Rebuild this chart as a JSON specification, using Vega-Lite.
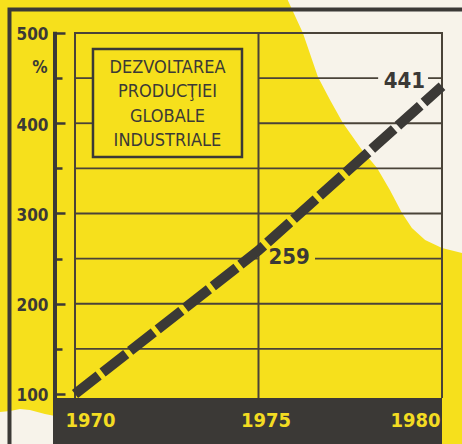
{
  "$schema": "https://vega.github.io/schema/vega-lite/v6.json",
  "width": 462,
  "height": 444,
  "autosize": {"type": "none"},
  "padding": 0,
  "background": "#f6e01c",
  "config": {
    "view": {"stroke": null},
    "axis": {"labels": false, "ticks": false, "domain": false, "grid": false, "titleOpacity": 0}
  },
  "datasets": {
    "series": [
      {"year": 1970, "value": 100},
      {"year": 1975, "value": 259},
      {"year": 1980, "value": 441}
    ],
    "whiteTop": [
      {"bx": 1975.70, "by": 545},
      {"bx": 1976.21, "by": 500.0},
      {"bx": 1976.62, "by": 451.2},
      {"bx": 1976.95, "by": 425.8},
      {"bx": 1977.30, "by": 400.3},
      {"bx": 1977.82, "by": 370.4},
      {"bx": 1978.23, "by": 350.4},
      {"bx": 1978.58, "by": 326.0},
      {"bx": 1978.91, "by": 300.6},
      {"bx": 1979.18, "by": 283.9},
      {"bx": 1979.54, "by": 270.6},
      {"bx": 1980.00, "by": 261.8},
      {"bx": 1980.55, "by": 256.2},
      {"bx": 1981.50, "by": 254.0}
    ],
    "whiteBottom": [
      {"bx": 1967.80, "by": 78.9},
      {"bx": 1967.96, "by": 80.0},
      {"bx": 1968.23, "by": 81.2},
      {"bx": 1968.50, "by": 83.4},
      {"bx": 1968.77, "by": 82.3},
      {"bx": 1969.18, "by": 77.9},
      {"bx": 1969.59, "by": 74.5}
    ],
    "grid": [
      {"v": 500, "a": 1970, "b": 1980},
      {"v": 450, "a": 1970, "b": 1970.49},
      {"v": 450, "a": 1975, "b": 1978.26},
      {"v": 450, "a": 1979.62, "b": 1980},
      {"v": 400, "a": 1970, "b": 1970.49},
      {"v": 400, "a": 1975, "b": 1980},
      {"v": 350, "a": 1970, "b": 1980},
      {"v": 300, "a": 1970, "b": 1980},
      {"v": 250, "a": 1970, "b": 1975},
      {"v": 250, "a": 1976.54, "b": 1980},
      {"v": 200, "a": 1970, "b": 1980},
      {"v": 150, "a": 1970, "b": 1980}
    ],
    "years": [{"yr": 1970}, {"yr": 1975}, {"yr": 1980}]
  },
  "layer": [
    {
      "data": {"name": "whiteTop"},
      "mark": {"type": "area", "orient": "horizontal", "color": "#f7f3ea"},
      "encoding": {
        "x": {"field": "bx", "type": "quantitative", "scale": {"domain": [1967.9564, 1980.545], "nice": false, "zero": false}},
        "x2": {"datum": 1982},
        "y": {"field": "by", "type": "quantitative", "scale": {"domain": [44.598, 536.565], "nice": false, "zero": false}}
      }
    },
    {
      "data": {"name": "whiteBottom"},
      "mark": {"type": "area", "orient": "vertical", "color": "#f7f3ea"},
      "encoding": {
        "x": {"field": "bx", "type": "quantitative", "scale": {"domain": [1967.9564, 1980.545], "nice": false, "zero": false}},
        "y": {"field": "by", "type": "quantitative", "scale": {"domain": [44.598, 536.565], "nice": false, "zero": false}},
        "y2": {"datum": 30}
      }
    },
    {
      "data": {"values": [{}]},
      "mark": {"type": "rect", "filled": false, "stroke": "#3b3936", "strokeWidth": 4},
      "encoding": {
        "x": {"datum": 1968.215, "type": "quantitative", "scale": {"domain": [1967.9564, 1980.545], "nice": false, "zero": false}},
        "x2": {"datum": 1982},
        "y": {"datum": 526.0, "type": "quantitative", "scale": {"domain": [44.598, 536.565], "nice": false, "zero": false}},
        "y2": {"datum": 30}
      }
    },
    {
      "data": {"values": [{}]},
      "mark": {"type": "rect", "color": "#3b3936"},
      "encoding": {
        "x": {"datum": 1969.455, "type": "quantitative", "scale": {"domain": [1967.9564, 1980.545], "nice": false, "zero": false}},
        "x2": {"datum": 1980},
        "y": {"datum": 95.6, "type": "quantitative", "scale": {"domain": [44.598, 536.565], "nice": false, "zero": false}},
        "y2": {"datum": 30}
      }
    },
    {
      "data": {"name": "grid"},
      "mark": {"type": "rule", "stroke": "#4a4338", "strokeWidth": 1.8},
      "encoding": {
        "x": {"field": "a", "type": "quantitative", "scale": {"domain": [1967.9564, 1980.545], "nice": false, "zero": false}},
        "x2": {"field": "b"},
        "y": {"field": "v", "type": "quantitative", "scale": {"domain": [44.598, 536.565], "nice": false, "zero": false}}
      }
    },
    {
      "data": {"name": "years"},
      "mark": {"type": "rule", "stroke": "#4a4338", "strokeWidth": 2},
      "encoding": {
        "x": {"field": "yr", "type": "quantitative", "scale": {"domain": [1967.9564, 1980.545], "nice": false, "zero": false}},
        "y": {"datum": 501, "type": "quantitative", "scale": {"domain": [44.598, 536.565], "nice": false, "zero": false}},
        "y2": {"datum": 95.6}
      }
    },
    {
      "data": {"values": [{}]},
      "mark": {"type": "rule", "stroke": "#3b3936", "strokeWidth": 4},
      "encoding": {
        "x": {"datum": 1969.455, "type": "quantitative", "scale": {"domain": [1967.9564, 1980.545], "nice": false, "zero": false}},
        "y": {"datum": 501.5, "type": "quantitative", "scale": {"domain": [44.598, 536.565], "nice": false, "zero": false}},
        "y2": {"datum": 30}
      }
    },
    {
      "data": {"values": [{}]},
      "mark": {"type": "rect", "filled": false, "stroke": "#3b3936", "strokeWidth": 2.5},
      "encoding": {
        "x": {"datum": 1970.49, "type": "quantitative", "scale": {"domain": [1967.9564, 1980.545], "nice": false, "zero": false}},
        "x2": {"datum": 1974.55},
        "y": {"datum": 482.3, "type": "quantitative", "scale": {"domain": [44.598, 536.565], "nice": false, "zero": false}},
        "y2": {"datum": 362.6}
      }
    },
    {
      "data": {"values": [{}]},
      "mark": {"type": "text", "text": ["DEZVOLTAREA", "PRODUCŢIEI", "GLOBALE", "INDUSTRIALE"], "lineHeight": 24.3, "font": "DejaVu Sans Condensed", "fontSize": 18, "color": "#3b3936", "align": "center", "baseline": "middle"},
      "encoding": {
        "x": {"datum": 1972.52, "type": "quantitative", "scale": {"domain": [1967.9564, 1980.545], "nice": false, "zero": false}},
        "y": {"datum": 461.2, "type": "quantitative", "scale": {"domain": [44.598, 536.565], "nice": false, "zero": false}}
      }
    },
    {
      "data": {"name": "series"},
      "mark": {"type": "line", "stroke": "#3b3936", "strokeWidth": 10, "strokeDash": [30, 5], "strokeCap": "butt"},
      "encoding": {
        "x": {
          "field": "year", "type": "quantitative",
          "scale": {"domain": [1967.9564, 1980.545], "nice": false, "zero": false},
          "axis": {
            "orient": "bottom", "offset": -24, "values": [1970, 1975, 1980], "format": "d",
            "domain": false, "ticks": false, "grid": false, "labels": true, "title": null,
            "labelColor": "#f3dc22", "labelFont": "DejaVu Sans Condensed", "labelFontWeight": "bold", "labelFontSize": 20,
            "labelBaseline": "middle", "labelPadding": 0, "labelFlush": false, "labelOverlap": false,
            "labelAlign": {"condition": [{"test": "datum.value === 1970", "value": "left"}, {"test": "datum.value === 1980", "value": "right"}], "value": "center"},
            "labelOffset": {"condition": [{"test": "datum.value === 1970", "value": -10}, {"test": "datum.value === 1980", "value": -2}], "value": 7},
            "zindex": 1
          }
        },
        "y": {
          "field": "value", "type": "quantitative",
          "scale": {"domain": [44.598, 536.565], "nice": false, "zero": false},
          "axis": {
            "orient": "left", "offset": -55, "values": [100, 150, 200, 250, 300, 350, 400, 450, 500],
            "domain": false, "grid": false, "ticks": true, "labels": true, "tickColor": "#3b3936", "tickWidth": 2.5,
            "tickSize": {"condition": {"test": "datum.value % 100 === 0", "value": -10}, "value": -7},
            "labelExpr": "datum.value % 100 === 0 ? datum.label : ''",
            "labelFont": "DejaVu Sans Condensed", "labelFontWeight": "bold", "labelFontSize": 17, "labelColor": "#3b3936",
            "labelPadding": 17, "labelOffset": 2, "labelBaseline": "middle", "labelAlign": "right",
            "title": "%", "titleAngle": 0, "titleX": -8, "titleY": 67, "titleAlign": "right", "titleBaseline": "middle",
            "titleFont": "DejaVu Sans Condensed", "titleFontWeight": "bold", "titleFontSize": 17, "titleColor": "#3b3936", "titleOpacity": 1,
            "zindex": 1
          }
        }
      }
    },
    {
      "data": {"name": "series"},
      "transform": [{"filter": "datum.year === 1975"}],
      "mark": {"type": "text", "font": "DejaVu Sans Condensed", "fontWeight": "bold", "fontSize": 22, "color": "#3b3936", "align": "left", "baseline": "middle", "dx": 10, "dy": 6},
      "encoding": {
        "x": {"field": "year", "type": "quantitative", "scale": {"domain": [1967.9564, 1980.545], "nice": false, "zero": false}},
        "y": {"field": "value", "type": "quantitative", "scale": {"domain": [44.598, 536.565], "nice": false, "zero": false}},
        "text": {"field": "value", "type": "quantitative"}
      }
    },
    {
      "data": {"name": "series"},
      "transform": [{"filter": "datum.year === 1980"}],
      "mark": {"type": "text", "font": "DejaVu Sans Condensed", "fontWeight": "bold", "fontSize": 22, "color": "#3b3936", "align": "right", "baseline": "middle", "dx": -17, "dy": -5},
      "encoding": {
        "x": {"field": "year", "type": "quantitative", "scale": {"domain": [1967.9564, 1980.545], "nice": false, "zero": false}},
        "y": {"field": "value", "type": "quantitative", "scale": {"domain": [44.598, 536.565], "nice": false, "zero": false}},
        "text": {"field": "value", "type": "quantitative"}
      }
    }
  ]
}
